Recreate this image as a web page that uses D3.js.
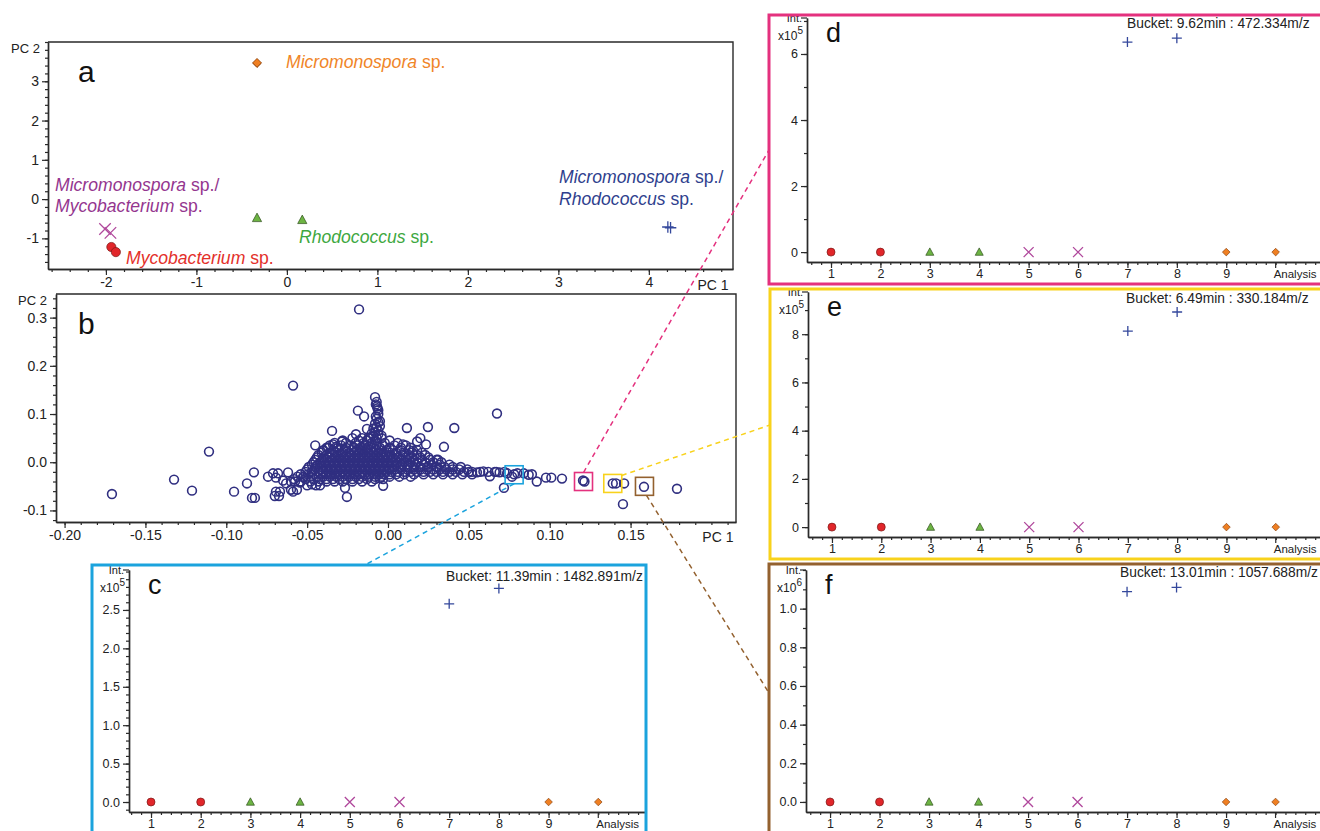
<!DOCTYPE html>
<html>
<head>
<meta charset="utf-8">
<script src="https://cdn.jsdelivr.net/npm/d3@7"></script>
<style>
  body { margin:0; background:#fff; }
  svg { display:block; font-family:"Liberation Sans", Arial, sans-serif; }
</style>
</head>
<body>
<svg id="fig" width="1320" height="831"></svg>
<script>
// ---- data ----
var analyses = [1, 2, 3, 4, 5, 6, 7, 8, 9, 10]
var analysisGroup = ['myco', 'myco', 'rhodo', 'rhodo', 'mix1', 'mix1', 'mix2', 'mix2', 'micro', 'micro']

// panel a : PCA scores
var scorePC1 = [-1.94, -1.89, -0.33, 0.17, -2.01, -1.95, 4.21, 4.24, -0.33, -0.33]
var scorePC2 = [-1.22, -1.35, -0.48, -0.53, -0.76, -0.86, -0.71, -0.73, 3.46, 3.47]

// panels c-f : bucket intensities per analysis
var intensityC = [0, 0, 0, 0, 0, 0, 2.58, 2.78, 0, 0]     // x10^5
var intensityD = [0, 0, 0, 0, 0, 0, 6.36, 6.48, 0, 0]     // x10^5
var intensityE = [0, 0, 0, 0, 0, 0, 8.13, 8.92, 0, 0]     // x10^5
var intensityF = [0, 0, 0, 0, 0, 0, 1.088, 1.11, 0, 0]    // x10^6

// panel b : loadings (scattered points)
var loadingsSparse = [
  [-0.0179,0.317],[-0.0587,0.159],[-0.0186,0.107],[-0.0148,0.095],[-0.0346,0.065],[-0.1107,0.022],
  [-0.1323,-0.036],[-0.1707,-0.066],[-0.1212,-0.059],[-0.0952,-0.061],[-0.0872,-0.044],[-0.0829,-0.021],
  [-0.0841,-0.074],[-0.0823,-0.074],[-0.0742,-0.030],[-0.0711,-0.023],[-0.0693,-0.032],[-0.068,-0.023],
  [-0.0693,-0.061],[-0.070,-0.070],[-0.0674,-0.070],[-0.0668,-0.061],[-0.0649,-0.038],[-0.0618,-0.021],
  [-0.063,-0.044],[-0.060,-0.057],[-0.0587,-0.061],[-0.0563,-0.057],[-0.0575,-0.040],[-0.0544,-0.042],
  [-0.0526,-0.031],[-0.050,-0.048],[-0.047,-0.046],[-0.045,0.035],[-0.0445,-0.048],[-0.042,-0.048],
  [-0.040,0.024],[-0.037,0.030],[-0.034,0.037],[-0.032,0.032],[-0.0285,0.043],[-0.0266,-0.053],
  [-0.0254,-0.072],[-0.0198,0.058],[-0.013,0.069],
  [0.0117,0.071],[0.0247,0.073],[0.041,0.071],[0.0674,0.101],[0.020,0.050],[0.018,0.043],[0.0235,0.037],
  [0.0346,0.032],[0.0093,0.037],[0.030,0.005],[0.0155,0.024],[-0.003,-0.049],[-0.005,-0.033],
  [0.050,-0.020],[0.055,-0.021],[0.059,-0.019],[0.063,-0.029],[0.066,-0.020],[0.069,-0.021],[0.072,-0.020],
  [0.0736,-0.023],[0.0767,-0.030],[0.078,-0.025],[0.080,-0.023],[0.0717,-0.053],[0.084,-0.023],[0.087,-0.026],
  [0.089,-0.025],[0.092,-0.040],[0.0977,-0.032],[0.101,-0.032],[0.1076,-0.034],[0.1206,-0.038],[0.1215,-0.040],
  [0.139,-0.044],[0.141,-0.044],[0.146,-0.044],[0.1453,-0.087],[0.1583,-0.051],[0.1787,-0.055],
  // spike
  [-0.011,0.05],[-0.007,0.05],[-0.004,0.055],[-0.010,0.06],[-0.006,0.065],[-0.009,0.07],[-0.005,0.075],
  [-0.008,0.08],[-0.005,0.085],[-0.007,0.09],[-0.006,0.10],[-0.0068,0.116],[-0.006,0.108],[-0.008,0.135],[-0.007,0.125],
  [-0.009,0.055],[-0.006,0.058],[-0.008,0.062],[-0.007,0.072],[-0.006,0.083],[-0.0075,0.095],[-0.0065,0.112],[-0.0075,0.12]
]

// panel b : dense core, one row of PC1 values per PC2 level
var coreRowsPC2 = [0.05, 0.045, 0.04, 0.035, 0.03, 0.025, 0.02, 0.015, 0.01, 0.005, 0.00, -0.005, -0.01, -0.015, -0.02, -0.025, -0.03, -0.035, -0.04]
var coreRowsPC1 = [
  [-0.022,-0.016,-0.012,-0.004],
  [-0.028,-0.018,-0.013,-0.008,0.001],
  [-0.033,-0.026,-0.020,-0.015,-0.010,-0.002,0.006],
  [-0.036,-0.029,-0.023,-0.019,-0.015,-0.011,-0.007,-0.003,0.004,0.011],
  [-0.038,-0.031,-0.026,-0.021,-0.017,-0.013,-0.009,-0.005,0.001,0.008,0.014],
  [-0.040,-0.034,-0.030,-0.026,-0.0225,-0.0195,-0.0165,-0.0135,-0.0105,-0.0075,-0.0045,-0.001,0.003,0.008,0.013,0.018],
  [-0.041,-0.036,-0.032,-0.028,-0.024,-0.021,-0.018,-0.015,-0.012,-0.009,-0.006,-0.003,0.001,0.005,0.010,0.015,0.021],
  [-0.043,-0.038,-0.0345,-0.0315,-0.0285,-0.0255,-0.0225,-0.0195,-0.0165,-0.0135,-0.0105,-0.0075,-0.0045,-0.0015,0.0015,0.005,0.009,0.013,0.018,0.023],
  [-0.044,-0.040,-0.036,-0.033,-0.030,-0.027,-0.024,-0.021,-0.018,-0.015,-0.012,-0.009,-0.006,-0.003,0.000,0.003,0.007,0.011,0.015,0.020,0.025],
  [-0.045,-0.0405,-0.0375,-0.0345,-0.0315,-0.0285,-0.0255,-0.0225,-0.0195,-0.0165,-0.0135,-0.0105,-0.0075,-0.0045,-0.0015,0.0015,0.0045,0.008,0.012,0.016,0.021,0.026,0.031],
  [-0.046,-0.042,-0.039,-0.036,-0.033,-0.030,-0.027,-0.024,-0.021,-0.018,-0.015,-0.012,-0.009,-0.006,-0.003,0.000,0.003,0.006,0.010,0.014,0.018,0.023,0.028,0.033],
  [-0.047,-0.0435,-0.0395,-0.0365,-0.0335,-0.0305,-0.0275,-0.0245,-0.0215,-0.0185,-0.0155,-0.0125,-0.0095,-0.0065,-0.0035,-0.0005,0.0025,0.0055,0.009,0.013,0.017,0.022,0.027,0.032,0.038],
  [-0.049,-0.045,-0.041,-0.038,-0.035,-0.032,-0.029,-0.026,-0.023,-0.020,-0.017,-0.014,-0.011,-0.008,-0.005,-0.002,0.001,0.004,0.008,0.012,0.016,0.020,0.025,0.030,0.035,0.040,0.045],
  [-0.050,-0.0455,-0.0415,-0.0385,-0.0355,-0.0325,-0.0295,-0.0265,-0.0235,-0.0205,-0.0175,-0.0145,-0.0115,-0.0085,-0.0055,-0.0025,0.0005,0.004,0.008,0.012,0.016,0.020,0.024,0.028,0.032,0.036,0.040,0.044,0.049],
  [-0.051,-0.047,-0.043,-0.040,-0.037,-0.034,-0.031,-0.028,-0.025,-0.022,-0.019,-0.016,-0.013,-0.010,-0.007,-0.004,-0.001,0.002,0.006,0.010,0.014,0.018,0.022,0.026,0.030,0.034,0.038,0.042,0.047,0.052,0.057,0.062,0.067],
  [-0.054,-0.0495,-0.0455,-0.0415,-0.0385,-0.0355,-0.0325,-0.0295,-0.0265,-0.0235,-0.0205,-0.0175,-0.0145,-0.0115,-0.0085,-0.0055,-0.0025,0.001,0.005,0.010,0.016,0.022,0.028,0.034,0.040,0.046,0.052],
  [-0.056,-0.052,-0.048,-0.044,-0.040,-0.036,-0.032,-0.028,-0.024,-0.020,-0.016,-0.012,-0.008,-0.004,0.001,0.007,0.014],
  [-0.058,-0.051,-0.046,-0.042,-0.038,-0.034,-0.030,-0.026,-0.022,-0.018,-0.013,-0.008,-0.003],
  [-0.060,-0.054,-0.048,-0.043,-0.038,-0.033,-0.028,-0.022,-0.016,-0.010]
]

// highlighted buckets in panel b (PC1, PC2) -> panels c..f
var highlightPanel = ['c', 'd', 'e', 'f']
var highlightPC1 = [0.078, 0.1209, 0.139, 0.1586]
var highlightPC2 = [-0.026, -0.040, -0.044, -0.050]

var bucketLabels = ['Bucket: 11.39min : 1482.891m/z', 'Bucket: 9.62min : 472.334m/z', 'Bucket: 6.49min : 330.184m/z', 'Bucket: 13.01min : 1057.688m/z']

// tick labels
var ticksA_x = [-2, -1, 0, 1, 2, 3, 4]
var ticksA_y = [-1, 0, 1, 2, 3]
var ticksB_x = [-0.20, -0.15, -0.10, -0.05, 0.00, 0.05, 0.10, 0.15]
var ticksB_y = [-0.1, 0.0, 0.1, 0.2, 0.3]
var ticksAnalysis = [1, 2, 3, 4, 5, 6, 7, 8, 9]

// ---- style ----
var FONT = '"Liberation Sans", Arial, sans-serif'
var AXIS = '#2a2a2a'
var groupColor = { myco:'#e1262a', rhodo:'#6db443', mix1:'#b0489c', mix2:'#34489c', micro:'#ef7f22' }
var groupText = { myco:'#e3302a', rhodo:'#3ea83f', mix1:'#94368f', mix2:'#2f3f8e', micro:'#f08528' }
var frameColor = { c:'#1ba3dd', d:'#e4317e', e:'#f8d21c', f:'#93612f' }
var loadColor = '#302f80'

var svg = d3.select('#fig')
svg.append('rect').attr('width', 1320).attr('height', 831).attr('fill', '#fff')

function fmt(spec) {
  var f = d3.format(spec)
  return function(d) { return f(d).replace('\u2212', '-') }
}

function stepTicks(d0, d1, step) {
  return d3.range(Math.ceil(d0 / step - 1e-9), Math.floor(d1 / step + 1e-9) + 1).map(function(i) { return +(i * step).toFixed(6) })
}

function styleAxis(g, fs) {
  g.attr('font-family', FONT).attr('font-size', fs)
  g.selectAll('path.domain').attr('stroke', AXIS).attr('stroke-width', 1.4)
  g.selectAll('line').attr('stroke', AXIS).attr('stroke-width', 1.2)
  g.selectAll('text').attr('fill', '#222')
}

function axes(o) {
  var x = d3.scaleLinear().domain(o.xDomain).range([o.left, o.right])
  var y = d3.scaleLinear().domain(o.yDomain).range([o.bottom, o.top])
  var g = svg.append('g')

  if (o.box) {
    g.append('path')
      .attr('d', 'M' + o.left + ',' + o.top + 'H' + o.right + 'V' + o.bottom)
      .attr('fill', 'none').attr('stroke', AXIS).attr('stroke-width', 1.4)
  }

  var xm = g.append('g').attr('transform', 'translate(0,' + o.bottom + ')')
    .call(d3.axisBottom(x).tickValues(stepTicks(o.xDomain[0], o.xDomain[1], o.xMinor)).tickSize(3).tickSizeOuter(0).tickFormat(''))
  styleAxis(xm, o.fs)
  var xM = g.append('g').attr('transform', 'translate(0,' + o.bottom + ')')
    .call(d3.axisBottom(x).tickValues(o.xMajor).tickSize(6).tickSizeOuter(0).tickPadding(o.xPad || 2).tickFormat(o.xFmt))
  styleAxis(xM, o.fs)

  var ym = g.append('g').attr('transform', 'translate(' + o.left + ',0)')
    .call(d3.axisLeft(y).tickValues(stepTicks(o.yDomain[0], o.yDomain[1], o.yMinor)).tickSize(3).tickSizeOuter(0).tickFormat(''))
  styleAxis(ym, o.fs)
  var yM = g.append('g').attr('transform', 'translate(' + o.left + ',0)')
    .call(d3.axisLeft(y).tickValues(o.yMajor).tickSize(6).tickSizeOuter(0).tickPadding(3).tickFormat(o.yFmt))
  styleAxis(yM, o.fs)

  return { x:x, y:y, g:g }
}

function marker(sel, group, s) {
  var c = groupColor[group]
  if (group == 'myco') {
    sel.append('circle').attr('r', s).attr('fill', c).attr('stroke', '#7a1815').attr('stroke-width', 0.7)
  } else if (group == 'rhodo') {
    sel.append('path').attr('d', 'M0,' + (-s * 1.05) + 'L' + (s * 1.0) + ',' + (s * 0.8) + 'L' + (-s * 1.0) + ',' + (s * 0.8) + 'Z')
      .attr('fill', c).attr('stroke', '#2f4f1c').attr('stroke-width', 0.7)
  } else if (group == 'mix1') {
    var k = s * 1.25
    sel.append('path').attr('d', 'M' + (-k) + ',' + (-k) + 'L' + k + ',' + k + 'M' + (-k) + ',' + k + 'L' + k + ',' + (-k))
      .attr('stroke', c).attr('stroke-width', 1.3).attr('fill', 'none')
  } else if (group == 'mix2') {
    var p = s * 1.25
    sel.append('path').attr('d', 'M' + (-p) + ',0H' + p + 'M0,' + (-p) + 'V' + p)
      .attr('stroke', c).attr('stroke-width', 1.3).attr('fill', 'none')
  } else {
    var q = s * 0.95
    sel.append('path').attr('d', 'M0,' + (-q) + 'L' + q + ',0L0,' + q + 'L' + (-q) + ',0Z')
      .attr('fill', c).attr('stroke', '#8a4512').attr('stroke-width', 0.7)
  }
}

function speciesLabel(x, y, parts, color, fs) {
  var t = svg.append('text').attr('x', x).attr('y', y).attr('fill', color).attr('font-size', fs).attr('font-family', FONT)
  parts.forEach(function(p) {
    t.append('tspan').text(p[0]).attr('font-style', p[1] ? 'italic' : 'normal')
  })
}

// ---- panel a ----
var pa = axes({
  left:48, right:733, top:42, bottom:269, box:true, fs:14,
  xDomain:[-2.64, 4.93], yDomain:[-1.78, 4.0],
  xMajor:ticksA_x, xMinor:0.2, yMajor:ticksA_y, yMinor:0.2,
  xFmt:fmt('d'), yFmt:fmt('d')
})
svg.append('text').attr('x', 40).attr('y', 53).attr('text-anchor', 'end').attr('font-size', 13).attr('font-family', FONT).attr('fill', '#222').text('PC 2')
svg.append('text').attr('x', pa.x(4.71)).attr('y', 290).attr('text-anchor', 'middle').attr('font-size', 14).attr('font-family', FONT).attr('fill', '#222').text('PC 1')
svg.append('text').attr('x', 78).attr('y', 82).attr('font-size', 30).attr('font-family', FONT).attr('fill', '#111').text('a')

pa.g.selectAll('g.pt').data(analyses).join('g')
  .attr('class', 'pt')
  .attr('transform', function(d, i) { return 'translate(' + pa.x(scorePC1[i]) + ',' + pa.y(scorePC2[i]) + ')' })
  .each(function(d, i) { marker(d3.select(this), analysisGroup[i], 4.6) })

speciesLabel(286, 68, [['Micromonospora', true], [' sp.', false]], groupText.micro, 17.6)
speciesLabel(55, 191, [['Micromonospora', true], [' sp./', false]], groupText.mix1, 17.6)
speciesLabel(55, 212, [['Mycobacterium', true], [' sp.', false]], groupText.mix1, 17.6)
speciesLabel(126, 264, [['Mycobacterium', true], [' sp.', false]], groupText.myco, 17.6)
speciesLabel(299, 243, [['Rhodococcus', true], [' sp.', false]], groupText.rhodo, 17.6)
speciesLabel(559, 183, [['Micromonospora', true], [' sp./', false]], groupText.mix2, 17.6)
speciesLabel(559, 205, [['Rhodococcus', true], [' sp.', false]], groupText.mix2, 17.6)

// ---- panel b ----
var pb = axes({
  left:56, right:736, top:294, bottom:522, box:true, fs:14,
  xDomain:[-0.2053, 0.2152], yDomain:[-0.124, 0.349],
  xMajor:ticksB_x, xMinor:0.01, yMajor:ticksB_y, yMinor:0.02,
  xFmt:fmt('.2f'), yFmt:fmt('.1f')
})
svg.append('text').attr('x', 47).attr('y', 305).attr('text-anchor', 'end').attr('font-size', 13).attr('font-family', FONT).attr('fill', '#222').text('PC 2')
svg.append('text').attr('x', pb.x(0.204)).attr('y', 542).attr('text-anchor', 'middle').attr('font-size', 14).attr('font-family', FONT).attr('fill', '#222').text('PC 1')
svg.append('text').attr('x', 78).attr('y', 334).attr('font-size', 30).attr('font-family', FONT).attr('fill', '#111').text('b')

var loadings = loadingsSparse.slice()
coreRowsPC2.forEach(function(v, r) {
  coreRowsPC1[r].forEach(function(u) { loadings.push([u, v]) })
})
pb.g.append('g').selectAll('circle').data(loadings).join('circle')
  .attr('cx', function(d) { return pb.x(d[0]) })
  .attr('cy', function(d) { return pb.y(d[1]) })
  .attr('r', 4.4)
  .attr('fill', 'none')
  .attr('stroke', loadColor)
  .attr('stroke-width', 1.6)

var boxSize = 18
pb.g.append('g').selectAll('rect').data(highlightPanel).join('rect')
  .attr('x', function(d, i) { return pb.x(highlightPC1[i]) - boxSize / 2 })
  .attr('y', function(d, i) { return pb.y(highlightPC2[i]) - boxSize / 2 })
  .attr('width', boxSize).attr('height', boxSize)
  .attr('fill', 'none')
  .attr('stroke', function(d) { return frameColor[d] })
  .attr('stroke-width', 1.6)

// ---- panels c-f ----
var bucketPanels = [
  { id:'c', values:intensityC, exp:'5', frame:[92, 565, 554, 300], left:129, right:645, top:570, bottom:812,
    xDomain:[0.557, 10.94], yDomain:[-0.13, 3.02], yMajor:[0, 0.5, 1.0, 1.5, 2.0, 2.5], yMinor:0.1, yFmt:fmt('.1f'), bx:446, by:581 },
  { id:'d', values:intensityD, exp:'5', frame:[769, 15, 620, 269], left:807, right:1330, top:18, bottom:262,
    xDomain:[0.514, 11.1], yDomain:[-0.30, 7.09], yMajor:[0, 2, 4, 6], yMinor:1, yFmt:fmt('d'), bx:1127, by:28 },
  { id:'e', values:intensityE, exp:'5', frame:[770, 289, 620, 270], left:808, right:1330, top:292, bottom:537,
    xDomain:[0.514, 11.1], yDomain:[-0.41, 9.75], yMajor:[0, 2, 4, 6, 8], yMinor:1, yFmt:fmt('d'), bx:1126, by:303 },
  { id:'f', values:intensityF, exp:'6', frame:[769, 564, 620, 300], left:806, right:1330, top:570, bottom:812,
    xDomain:[0.514, 11.1], yDomain:[-0.052, 1.20], yMajor:[0, 0.2, 0.4, 0.6, 0.8, 1.0], yMinor:0.1, yFmt:fmt('.1f'), bx:1120, by:577 }
]

var connectorEnds = { c:[365, 565], d:[769, 150], e:[770, 425], f:[769, 693] }
var connectorOffsets = { c:[0, 9], d:[0, -9], e:[9, -8], f:[2, 9] }

bucketPanels.forEach(function(p, pi) {
  var ax = axes({
    left:p.left, right:p.right, top:p.top, bottom:p.bottom, box:false, fs:12.5, xPad:1,
    xDomain:p.xDomain, yDomain:p.yDomain,
    xMajor:ticksAnalysis, xMinor:0.2, yMajor:p.yMajor, yMinor:p.yMinor,
    xFmt:fmt('d'), yFmt:p.yFmt
  })
  // top "Int." tick and analysis end tick
  ax.g.append('line').attr('x1', p.left - 6).attr('x2', p.left).attr('y1', p.top).attr('y2', p.top).attr('stroke', AXIS).attr('stroke-width', 1.2)
  ax.g.append('line').attr('x1', ax.x(10)).attr('x2', ax.x(10)).attr('y1', p.bottom).attr('y2', p.bottom + 6).attr('stroke', AXIS).attr('stroke-width', 1.2)
  ax.g.append('text').attr('x', p.left - 5).attr('y', p.top + 4).attr('text-anchor', 'end')
    .attr('font-size', 11).attr('font-family', FONT).attr('fill', '#222').text('Int.')
  var e = ax.g.append('text').attr('x', p.left - 4).attr('y', p.top + 22).attr('text-anchor', 'end')
    .attr('font-size', 12).attr('font-family', FONT).attr('fill', '#222')
  e.append('tspan').text('x10')
  e.append('tspan').attr('dy', -6).attr('font-size', 10).text(p.exp)
  ax.g.append('text').attr('x', ax.x(10) - 2).attr('y', p.bottom + 16)
    .attr('font-size', 11.5).attr('font-family', FONT).attr('fill', '#222').text('Analysis')
  ax.g.append('text').attr('x', p.bx).attr('y', p.by)
    .attr('font-size', 13.8).attr('font-family', FONT).attr('fill', '#222').text(bucketLabels[pi])
  ax.g.append('text').attr('x', p.left + 19).attr('y', p.top + 24)
    .attr('font-size', 27).attr('font-family', FONT).attr('fill', '#111').text(p.id)

  ax.g.selectAll('g.pt').data(analyses).join('g')
    .attr('class', 'pt')
    .attr('transform', function(d, i) { return 'translate(' + ax.x(d) + ',' + ax.y(p.values[i]) + ')' })
    .each(function(d, i) { marker(d3.select(this), analysisGroup[i], 4) })

  svg.append('rect')
    .attr('x', p.frame[0]).attr('y', p.frame[1]).attr('width', p.frame[2]).attr('height', p.frame[3])
    .attr('fill', 'none').attr('stroke', frameColor[p.id]).attr('stroke-width', 3)
})

// dashed connectors from highlighted buckets to their panels
highlightPanel.forEach(function(id, i) {
  var off = connectorOffsets[id]
  var end = connectorEnds[id]
  svg.append('line')
    .attr('x1', pb.x(highlightPC1[i]) + off[0]).attr('y1', pb.y(highlightPC2[i]) + off[1])
    .attr('x2', end[0]).attr('y2', end[1])
    .attr('stroke', frameColor[id]).attr('stroke-width', 1.5).attr('stroke-dasharray', '5,4')
})
</script>
</body>
</html>
